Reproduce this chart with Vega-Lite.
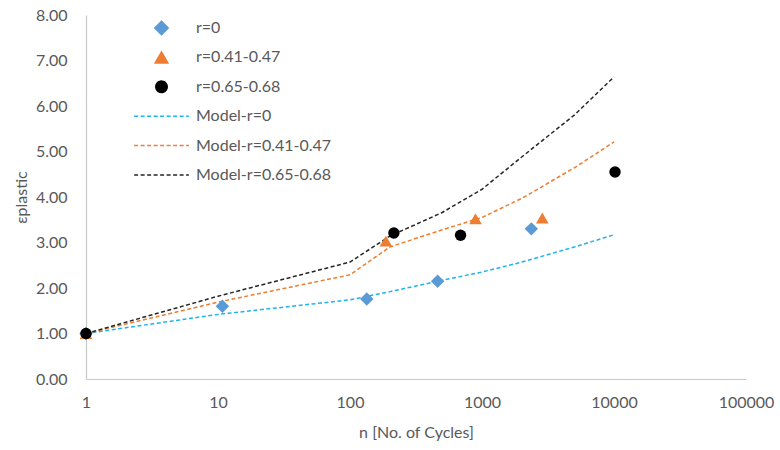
{
  "$schema": "https://vega.github.io/schema/vega-lite/v6.json",
  "autosize": {"type": "none"},
  "width": 660,
  "height": 364,
  "padding": {"left": 86, "top": 15, "right": 34, "bottom": 71},
  "background": "white",
  "config": {
    "font": "Lato",
    "view": {"stroke": null},
    "axis": {"labelColor": "#595959", "titleColor": "#595959", "labelFont": "Lato", "titleFont": "Lato", "labelFontSize": 16, "titleFontSize": 16, "titleFontWeight": "normal", "domainColor": "#C8C8C8", "domainWidth": 1.2, "ticks": false, "tickSize": 0, "grid": false}
  },
  "datasets": {
    "points": [
      {"series": "r=0", "n": 1, "eps": 1.0},
      {"series": "r=0", "n": 10.8, "eps": 1.60},
      {"series": "r=0", "n": 134, "eps": 1.76},
      {"series": "r=0", "n": 461, "eps": 2.15},
      {"series": "r=0", "n": 2365, "eps": 3.30},
      {"series": "r=0.41-0.47", "n": 1, "eps": 1.0},
      {"series": "r=0.41-0.47", "n": 187, "eps": 3.03},
      {"series": "r=0.41-0.47", "n": 893, "eps": 3.52},
      {"series": "r=0.41-0.47", "n": 2863, "eps": 3.54},
      {"series": "r=0.65-0.68", "n": 1, "eps": 1.0},
      {"series": "r=0.65-0.68", "n": 215, "eps": 3.21},
      {"series": "r=0.65-0.68", "n": 688, "eps": 3.16},
      {"series": "r=0.65-0.68", "n": 10180, "eps": 4.55}
    ],
    "model": [
      {"series": "Model-r=0", "n": 1, "eps": 1.0},
      {"series": "Model-r=0", "n": 10, "eps": 1.42},
      {"series": "Model-r=0", "n": 100, "eps": 1.74},
      {"series": "Model-r=0", "n": 200, "eps": 1.92},
      {"series": "Model-r=0", "n": 500, "eps": 2.17},
      {"series": "Model-r=0", "n": 1000, "eps": 2.35},
      {"series": "Model-r=0", "n": 2000, "eps": 2.57},
      {"series": "Model-r=0", "n": 5000, "eps": 2.90},
      {"series": "Model-r=0", "n": 10000, "eps": 3.17},
      {"series": "Model-r=0.41-0.47", "n": 1, "eps": 1.0},
      {"series": "Model-r=0.41-0.47", "n": 10, "eps": 1.69},
      {"series": "Model-r=0.41-0.47", "n": 100, "eps": 2.29},
      {"series": "Model-r=0.41-0.47", "n": 200, "eps": 2.90},
      {"series": "Model-r=0.41-0.47", "n": 500, "eps": 3.28},
      {"series": "Model-r=0.41-0.47", "n": 1000, "eps": 3.55},
      {"series": "Model-r=0.41-0.47", "n": 2000, "eps": 3.97},
      {"series": "Model-r=0.41-0.47", "n": 5000, "eps": 4.64},
      {"series": "Model-r=0.41-0.47", "n": 10000, "eps": 5.21},
      {"series": "Model-r=0.65-0.68", "n": 1, "eps": 1.0},
      {"series": "Model-r=0.65-0.68", "n": 10, "eps": 1.82},
      {"series": "Model-r=0.65-0.68", "n": 100, "eps": 2.57},
      {"series": "Model-r=0.65-0.68", "n": 200, "eps": 3.14},
      {"series": "Model-r=0.65-0.68", "n": 500, "eps": 3.66},
      {"series": "Model-r=0.65-0.68", "n": 1000, "eps": 4.17},
      {"series": "Model-r=0.65-0.68", "n": 2000, "eps": 4.88},
      {"series": "Model-r=0.65-0.68", "n": 5000, "eps": 5.80},
      {"series": "Model-r=0.65-0.68", "n": 10000, "eps": 6.64}
    ]
  },
  "encoding": {
    "x": {"field": "n", "type": "quantitative", "scale": {"type": "log", "domain": [1, 100000], "nice": false}, "axis": {"values": [1, 10, 100, 1000, 10000, 100000], "format": "d", "title": "n [No. of Cycles]", "labelPadding": 15, "titlePadding": 14, "labelFlush": false}},
    "y": {"field": "eps", "type": "quantitative", "scale": {"domain": [0, 8], "nice": false}, "axis": {"values": [0, 1, 2, 3, 4, 5, 6, 7, 8], "format": ".2f", "title": "εplastic", "labelPadding": 19, "titlePadding": 6, "labelFlush": false}}
  },
  "layer": [
    {
      "data": {"name": "model"},
      "mark": {"type": "line", "strokeWidth": 1.5},
      "encoding": {
        "color": {"field": "series", "type": "nominal", "scale": {"domain": ["r=0", "r=0.41-0.47", "r=0.65-0.68", "Model-r=0", "Model-r=0.41-0.47", "Model-r=0.65-0.68"], "range": ["#5B9BD5", "#ED7D31", "#000000", "#1FB4EE", "#ED7D31", "#262626"]}, "legend": {"title": null, "orient": "none", "legendX": 47, "legendY": 3, "padding": 0, "clipHeight": 20, "rowPadding": 9.4, "labelFont": "Lato", "labelFontSize": 16, "labelColor": "#595959", "labelOffset": 6, "symbolStrokeWidth": 1.5}},
        "strokeDash": {"field": "series", "type": "nominal", "scale": {"domain": ["r=0", "r=0.41-0.47", "r=0.65-0.68", "Model-r=0", "Model-r=0.41-0.47", "Model-r=0.65-0.68"], "range": [[1, 0], [1, 0], [1, 0], [4, 2.5], [4, 2.5], [4, 2.5]]}}
      }
    },
    {
      "data": {"name": "points"},
      "mark": {"type": "point", "filled": true, "opacity": 1},
      "encoding": {
        "color": {"field": "series", "type": "nominal"},
        "shape": {"field": "series", "type": "nominal", "scale": {"domain": ["r=0", "r=0.41-0.47", "r=0.65-0.68", "Model-r=0", "Model-r=0.41-0.47", "Model-r=0.65-0.68"], "range": ["diamond", "triangle-up", "circle", "stroke", "stroke", "stroke"]}},
        "size": {"field": "series", "type": "nominal", "scale": {"type": "ordinal", "domain": ["r=0", "r=0.41-0.47", "r=0.65-0.68", "Model-r=0", "Model-r=0.41-0.47", "Model-r=0.65-0.68"], "range": [180, 160, 130, 3000, 3000, 3000]}}
      }
    }
  ]
}
